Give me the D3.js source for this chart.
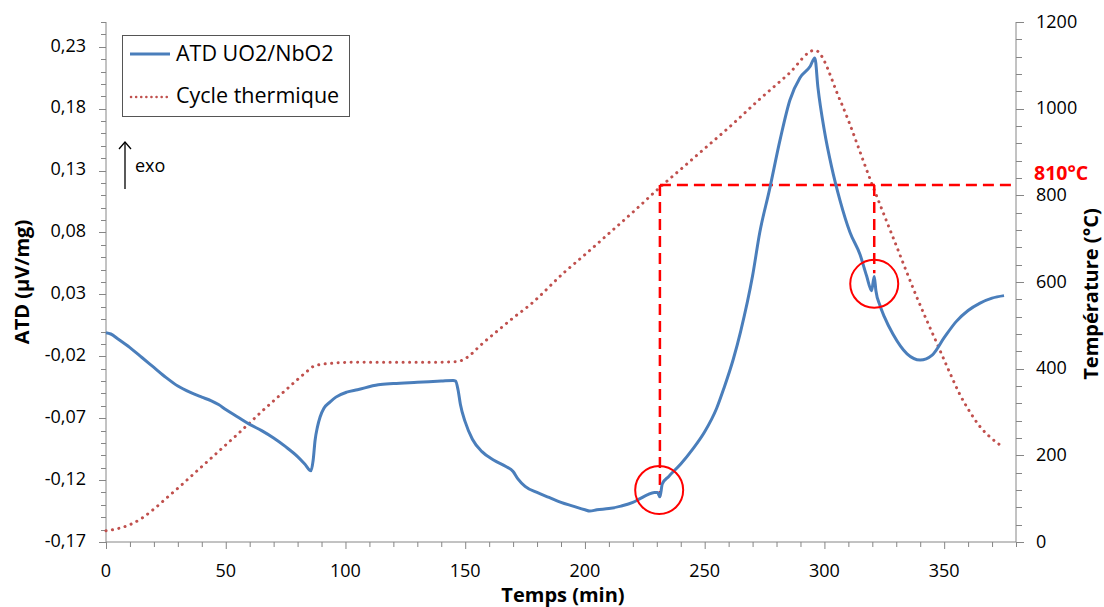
<!DOCTYPE html>
<html>
<head>
<meta charset="utf-8">
<script src="https://cdn.jsdelivr.net/npm/d3@7"></script>
<style>
  html, body { margin: 0; padding: 0; background: #fff; }
  svg { display: block; font-family: "Open Sans", sans-serif; }
</style>
</head>
<body>
<svg id="chart" width="1104" height="607"></svg>
<script>
// ---- Data ----
const atdTime = [0, 2, 5, 10, 15, 20, 25, 30, 35, 40, 44, 47, 50, 55, 60, 65, 70, 75, 80, 83, 85.6,
  86.5, 87.3, 88.3, 89.4, 91, 93.5, 96, 100.5, 105, 113.7, 120, 130, 140, 145, 146, 147, 148, 150, 153, 157,
  162, 167, 170, 172, 175, 180, 185, 190, 195, 200, 202, 205, 210, 215, 220, 223, 226, 229, 230.3, 231.3,
  232.3, 235, 240, 245, 250, 255, 258, 262, 265, 270, 273, 277, 281.5, 285.6, 289.8, 294, 296, 297.3, 300,
  303, 306.5, 310.7, 314.9, 317.6, 319.7, 320.8, 321.5, 323.2, 325, 328.6, 334.5, 340, 345, 350, 355, 360,
  365, 370, 375];
const atdValues = [-0.001, -0.002, -0.006, -0.013, -0.021, -0.029, -0.037, -0.044, -0.049, -0.053, -0.056, -0.059,
  -0.063, -0.069, -0.075, -0.080, -0.086, -0.093, -0.101, -0.107, -0.1125,
  -0.104, -0.088, -0.077, -0.069, -0.062, -0.057, -0.053, -0.049, -0.047, -0.043, -0.042, -0.041, -0.040, -0.0395,
  -0.040, -0.047, -0.059, -0.073, -0.087, -0.097,
  -0.104, -0.109, -0.113, -0.119, -0.125, -0.130, -0.134, -0.138, -0.141, -0.144, -0.145, -0.144, -0.143,
  -0.141, -0.138, -0.135, -0.132, -0.130, -0.130, -0.1335,
  -0.123, -0.117, -0.107, -0.095, -0.081, -0.062, -0.046, -0.022, 0.000, 0.045, 0.080, 0.114, 0.155, 0.187,
  0.205, 0.214, 0.221, 0.197, 0.162,
  0.133, 0.106, 0.080, 0.062, 0.045, 0.033, 0.0445, 0.033, 0.021, 0.012, -0.002, -0.018, -0.023, -0.019,
  -0.005, 0.008, 0.017, 0.023, 0.027, 0.029];

const tempTime = [0, 5, 10, 15, 20, 25, 30, 35, 40, 45, 50, 55, 60, 65, 72.7, 80, 84, 86.5, 90, 93.5, 100,
  110, 120, 130, 140, 146, 148, 150, 152, 156, 163, 170, 177, 191.7, 200, 210, 220, 231, 240, 250, 260,
  273, 285, 296, 306.5, 320, 330, 338.5, 347, 352, 356.6, 361, 365, 369, 373.3];
const temperature = [26, 31, 40, 55, 76, 100, 124, 149, 174, 199, 224, 249, 275, 301, 339, 375, 394, 405, 410,
  412, 414.5, 415, 415, 415, 415, 416, 418, 423, 431, 452, 485, 517, 547, 624, 663, 712, 761, 817, 860, 908,
  956, 1022, 1080, 1135, 1020, 824, 684, 566, 458, 395, 340, 298, 266, 243, 224];

const xTicks = [0, 50, 100, 150, 200, 250, 300, 350];
const yLeftTicks = [-0.17, -0.12, -0.07, -0.02, 0.03, 0.08, 0.13, 0.18, 0.23];
const yRightTicks = [0, 200, 400, 600, 800, 1000, 1200];

const seriesNames = ["ATD UO2/NbO2", "Cycle thermique"];
const annotTempLevel = 824;           // horizontal dashed level (°C)
const annotLabel = "810°C";
const markTimes = [231.3, 320.8];      // vertical dashed lines (min)
const markAtdEnds = [-0.1335, 0.047];  // where the vertical dashes end on the ATD curve
const circleTimes = [231, 320.8];
const circleAtd = [-0.128, 0.0385];

// ---- Layout ----
const svg = d3.select("#chart");
const L = 106, R = 1016, T = 22, B = 542;
const axisColor = "#868686";
const fontSize = 18;

const x = d3.scaleLinear().domain([0, 380]).range([L, R]);
const yL = d3.scaleLinear().domain([-0.17, 0.25]).range([B, T]);
const yR = d3.scaleLinear().domain([0, 1200]).range([B, T]);

const fmtL = v => (v < 0 ? "-" : "") + Math.abs(v).toFixed(2).replace(".", ",");

// Minor ticks
const xMinor = d3.range(0, 381, 10);
const yLMinor = d3.range(0, 43).map(i => -0.17 + i * 0.01);
const yRMinor = d3.range(0, 1201, 40);

const g = svg.append("g");

// Axes lines
g.append("line").attr("x1", L).attr("x2", R).attr("y1", B).attr("y2", B).attr("stroke", axisColor);
g.append("line").attr("x1", L).attr("x2", L).attr("y1", T).attr("y2", B).attr("stroke", axisColor);
g.append("line").attr("x1", R).attr("x2", R).attr("y1", T).attr("y2", B).attr("stroke", axisColor);

// X ticks
g.selectAll(".xmin").data(xMinor).join("line")
  .attr("x1", d => x(d) + 0.5).attr("x2", d => x(d) + 0.5)
  .attr("y1", B).attr("y2", d => B + (d % 50 === 0 ? 7 : 5)).attr("stroke", axisColor);
g.selectAll(".xlab").data(xTicks).join("text")
  .attr("x", d => x(d)).attr("y", 572).attr("text-anchor", "middle").attr("dominant-baseline", "middle")
  .attr("font-size", fontSize).attr("fill", "#000").text(d => d);

// Left ticks
g.selectAll(".ylmin").data(yLMinor).join("line")
  .attr("x1", L).attr("x2", (d, i) => L - (i % 5 === 0 ? 7 : 5))
  .attr("y1", d => Math.round(yL(d)) + 0.5).attr("y2", d => Math.round(yL(d)) + 0.5).attr("stroke", axisColor);
g.selectAll(".yllab").data(yLeftTicks).join("text")
  .attr("x", 86).attr("y", d => yL(d)).attr("text-anchor", "end").attr("dominant-baseline", "middle")
  .attr("font-size", fontSize).attr("fill", "#000").text(fmtL);

// Right ticks
g.selectAll(".yrmin").data(yRMinor).join("line")
  .attr("x1", R).attr("x2", d => R + (d % 200 === 0 ? 8 : 6))
  .attr("y1", d => Math.round(yR(d)) + 0.5).attr("y2", d => Math.round(yR(d)) + 0.5).attr("stroke", axisColor);
g.selectAll(".yrlab").data(yRightTicks).join("text")
  .attr("x", 1036).attr("y", d => yR(d) + 1).attr("text-anchor", "start").attr("dominant-baseline", "middle")
  .attr("font-size", fontSize).attr("fill", "#000").text(d => d);

// Axis titles
svg.append("text").attr("transform", "translate(29,282) rotate(-90)")
  .attr("text-anchor", "middle").attr("font-size", 20).attr("font-weight", "bold").text("ATD (µV/mg)");
svg.append("text").attr("transform", "translate(1098,294) rotate(-90)")
  .attr("text-anchor", "middle").attr("font-size", 20).attr("font-weight", "bold").text("Température (°C)");
svg.append("text").attr("x", 563).attr("y", 602)
  .attr("text-anchor", "middle").attr("font-size", 20).attr("font-weight", "bold").text("Temps (min)");

// Temperature (dotted)
const tempData = tempTime.map((t, i) => [t, temperature[i]]);
svg.append("path").datum(tempData)
  .attr("d", d3.line().x(d => x(d[0])).y(d => yR(d[1])).curve(d3.curveMonotoneX))
  .attr("fill", "none").attr("stroke", "#C0504D").attr("stroke-width", 3)
  .attr("stroke-linecap", "round").attr("stroke-dasharray", "0.1,6.4");

// Annotation dashed lines
const red = "#FF0000";
const yLevel = yR(annotTempLevel);
svg.append("line").attr("x1", x(markTimes[0])).attr("x2", R).attr("y1", yLevel).attr("y2", yLevel)
  .attr("stroke", red).attr("stroke-width", 2.5).attr("stroke-dasharray", "11,6");
markTimes.forEach((t, i) => {
  svg.append("line").attr("x1", x(t)).attr("x2", x(t)).attr("y1", yLevel).attr("y2", yL(markAtdEnds[i]))
    .attr("stroke", red).attr("stroke-width", 2.5).attr("stroke-dasharray", "11,6");
});

// ATD curve
const atdData = atdTime.map((t, i) => [t, atdValues[i]]);
svg.append("path").datum(atdData)
  .attr("d", d3.line().x(d => x(d[0])).y(d => yL(d[1])).curve(d3.curveMonotoneX))
  .attr("fill", "none").attr("stroke", "#4A7EBB").attr("stroke-width", 3).attr("stroke-linejoin", "round");

// Circles
circleTimes.forEach((t, i) => {
  svg.append("circle").attr("cx", x(t)).attr("cy", yL(circleAtd[i])).attr("r", 24)
    .attr("fill", "none").attr("stroke", red).attr("stroke-width", 2);
});

// 810°C label
svg.append("text").attr("x", 1034).attr("y", 180)
  .attr("font-size", 19.5).attr("font-weight", "bold").attr("fill", red).text(annotLabel);

// Legend
const lg = svg.append("g");
lg.append("rect").attr("x", 122.5).attr("y", 35.5).attr("width", 227).attr("height", 81)
  .attr("fill", "#fff").attr("stroke", "#555").attr("stroke-width", 1);
lg.append("line").attr("x1", 130).attr("x2", 170).attr("y1", 54).attr("y2", 54)
  .attr("stroke", "#4A7EBB").attr("stroke-width", 3);
lg.append("line").attr("x1", 131).attr("x2", 170).attr("y1", 97).attr("y2", 97)
  .attr("stroke", "#C0504D").attr("stroke-width", 2.5).attr("stroke-linecap", "round").attr("stroke-dasharray", "0.1,5");
lg.append("text").attr("x", 176).attr("y", 55).attr("dominant-baseline", "middle")
  .attr("font-size", 21.5).text(seriesNames[0]);
lg.append("text").attr("x", 176).attr("y", 97).attr("dominant-baseline", "middle")
  .attr("font-size", 21.5).text(seriesNames[1]);

// exo arrow
const ag = svg.append("g").attr("stroke", "#000").attr("stroke-width", 1.3).attr("fill", "none");
ag.append("line").attr("x1", 125).attr("x2", 125).attr("y1", 189).attr("y2", 142);
ag.append("path").attr("d", "M119,149 L125,142 L131,149");
svg.append("text").attr("x", 135).attr("y", 167).attr("dominant-baseline", "middle")
  .attr("font-size", 18).text("exo");
</script>
</body>
</html>
